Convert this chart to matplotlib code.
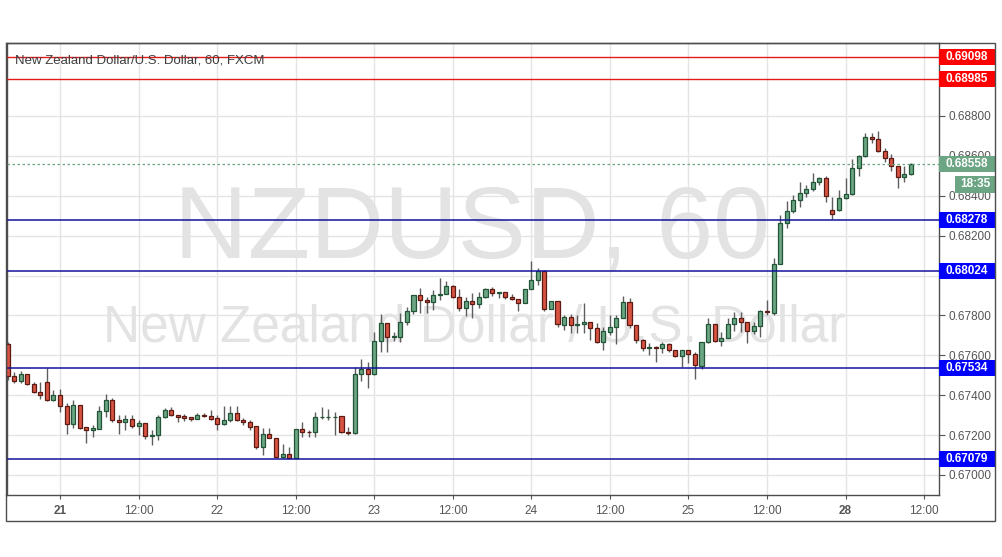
import numpy as np
import matplotlib.pyplot as plt
import matplotlib.transforms as mtransforms
from matplotlib.patches import Rectangle

plt.rcParams['font.family'] = ['Liberation Sans', 'DejaVu Sans']

# hourly candles, 20th 16:00 -> 28th 10:00
opens = [0.67657, 0.67496, 0.67473, 0.67506, 0.67456, 0.67416, 0.67465, 0.67375, 0.67400, 0.67346,
         0.67257, 0.67349, 0.67239, 0.67224, 0.67232, 0.67319, 0.67375, 0.67276, 0.67264, 0.67279,
         0.67247, 0.67259, 0.67197, 0.67199, 0.67289, 0.67324, 0.67299, 0.67294, 0.67289, 0.67282,
         0.67299, 0.67294, 0.67284, 0.67254, 0.67274, 0.67311, 0.67276, 0.67264, 0.67244, 0.67142,
         0.67204, 0.67184, 0.67092, 0.67104, 0.67087, 0.67232, 0.67216, 0.67214, 0.67289, 0.67289,
         0.67291, 0.67296, 0.67216, 0.67212, 0.67505, 0.67531, 0.67505, 0.67672, 0.67761, 0.67690,
         0.67693, 0.67766, 0.67821, 0.67901, 0.67877, 0.67866, 0.67903, 0.67906, 0.67948, 0.67891,
         0.67836, 0.67871, 0.67856, 0.67891, 0.67931, 0.67911, 0.67916, 0.67891, 0.67881, 0.67861,
         0.67931, 0.67976, 0.68023, 0.67832, 0.67871, 0.67754, 0.67794, 0.67751, 0.67756, 0.67766,
         0.67736, 0.67665, 0.67719, 0.67744, 0.67786, 0.67866, 0.67752, 0.67677, 0.67635, 0.67640,
         0.67635, 0.67655, 0.67625, 0.67595, 0.67625, 0.67605, 0.67547, 0.67665, 0.67756, 0.67670,
         0.67685, 0.67756, 0.67786, 0.67766, 0.67724, 0.67746, 0.67823, 0.67811, 0.68058, 0.68262,
         0.68324, 0.68379, 0.68412, 0.68434, 0.68468, 0.68488, 0.68329, 0.68329, 0.68387, 0.68409,
         0.68538, 0.68600, 0.68693, 0.68685, 0.68625, 0.68588, 0.68548, 0.68496, 0.68508]
highs = [0.67668, 0.67518, 0.67523, 0.67506, 0.67468, 0.67468, 0.67538, 0.67426, 0.67431, 0.67363,
         0.67375, 0.67349, 0.67239, 0.67251, 0.67344, 0.67405, 0.67385, 0.67301, 0.67301, 0.67301,
         0.67276, 0.67259, 0.67226, 0.67301, 0.67336, 0.67339, 0.67301, 0.67304, 0.67292, 0.67312,
         0.67309, 0.67326, 0.67301, 0.67344, 0.67344, 0.67344, 0.67284, 0.67276, 0.67244, 0.67234,
         0.67234, 0.67184, 0.67154, 0.67139, 0.67232, 0.67264, 0.67226, 0.67317, 0.67339, 0.67329,
         0.67314, 0.67296, 0.67242, 0.67540, 0.67582, 0.67565, 0.67719, 0.67807, 0.67761, 0.67717,
         0.67814, 0.67844, 0.67901, 0.67936, 0.67891, 0.67928, 0.67986, 0.67973, 0.67953, 0.67931,
         0.67894, 0.67911, 0.67919, 0.67938, 0.67941, 0.67919, 0.67919, 0.67908, 0.67881, 0.67931,
         0.68073, 0.68036, 0.68027, 0.67873, 0.67873, 0.67802, 0.67807, 0.67802, 0.67861, 0.67766,
         0.67761, 0.67744, 0.67802, 0.67802, 0.67898, 0.67886, 0.67752, 0.67682, 0.67663, 0.67647,
         0.67668, 0.67663, 0.67625, 0.67625, 0.67625, 0.67618, 0.67665, 0.67786, 0.67756, 0.67719,
         0.67786, 0.67816, 0.67816, 0.67766, 0.67769, 0.67827, 0.67877, 0.68087, 0.68304, 0.68374,
         0.68404, 0.68471, 0.68454, 0.68513, 0.68496, 0.68499, 0.68392, 0.68429, 0.68488, 0.68583,
         0.68604, 0.68713, 0.68713, 0.68725, 0.68638, 0.68610, 0.68548, 0.68549, 0.68563]
lows = [0.67476, 0.67460, 0.67460, 0.67451, 0.67410, 0.67380, 0.67372, 0.67371, 0.67317, 0.67207,
        0.67237, 0.67233, 0.67159, 0.67192, 0.67230, 0.67292, 0.67267, 0.67207, 0.67226, 0.67234,
        0.67199, 0.67182, 0.67149, 0.67175, 0.67284, 0.67296, 0.67264, 0.67271, 0.67272, 0.67279,
        0.67289, 0.67276, 0.67226, 0.67249, 0.67266, 0.67271, 0.67251, 0.67226, 0.67132, 0.67099,
        0.67184, 0.67092, 0.67084, 0.67085, 0.67084, 0.67189, 0.67192, 0.67192, 0.67279, 0.67276,
        0.67201, 0.67212, 0.67201, 0.67204, 0.67473, 0.67435, 0.67501, 0.67615, 0.67618, 0.67672,
        0.67668, 0.67751, 0.67807, 0.67811, 0.67811, 0.67826, 0.67878, 0.67906, 0.67886, 0.67821,
        0.67799, 0.67786, 0.67836, 0.67889, 0.67899, 0.67886, 0.67882, 0.67877, 0.67824, 0.67861,
        0.67931, 0.67953, 0.67824, 0.67832, 0.67744, 0.67727, 0.67711, 0.67712, 0.67711, 0.67677,
        0.67660, 0.67627, 0.67702, 0.67655, 0.67786, 0.67736, 0.67660, 0.67622, 0.67602, 0.67568,
        0.67612, 0.67618, 0.67593, 0.67540, 0.67560, 0.67480, 0.67530, 0.67660, 0.67668, 0.67648,
        0.67685, 0.67724, 0.67719, 0.67663, 0.67707, 0.67693, 0.67802, 0.67802, 0.68056, 0.68237,
        0.68315, 0.68345, 0.68395, 0.68425, 0.68454, 0.68370, 0.68284, 0.68325, 0.68384, 0.68404,
        0.68499, 0.68593, 0.68663, 0.68618, 0.68571, 0.68526, 0.68441, 0.68471, 0.68504]
closes = [0.67496, 0.67473, 0.67506, 0.67455, 0.67415, 0.67400, 0.67375, 0.67401, 0.67344, 0.67257,
          0.67349, 0.67237, 0.67224, 0.67236, 0.67319, 0.67375, 0.67274, 0.67264, 0.67279, 0.67247,
          0.67259, 0.67197, 0.67201, 0.67289, 0.67324, 0.67299, 0.67292, 0.67287, 0.67282, 0.67299,
          0.67294, 0.67282, 0.67254, 0.67274, 0.67311, 0.67274, 0.67264, 0.67242, 0.67142, 0.67204,
          0.67184, 0.67092, 0.67104, 0.67087, 0.67232, 0.67214, 0.67214, 0.67289, 0.67290, 0.67291,
          0.67292, 0.67216, 0.67212, 0.67505, 0.67531, 0.67505, 0.67672, 0.67761, 0.67690, 0.67697,
          0.67766, 0.67821, 0.67901, 0.67876, 0.67866, 0.67901, 0.67909, 0.67948, 0.67891, 0.67836,
          0.67871, 0.67856, 0.67891, 0.67931, 0.67911, 0.67918, 0.67891, 0.67881, 0.67861, 0.67931,
          0.67976, 0.68023, 0.67832, 0.67871, 0.67757, 0.67794, 0.67751, 0.67757, 0.67766, 0.67736,
          0.67665, 0.67722, 0.67744, 0.67786, 0.67866, 0.67752, 0.67677, 0.67635, 0.67640, 0.67635,
          0.67655, 0.67625, 0.67597, 0.67625, 0.67605, 0.67552, 0.67665, 0.67756, 0.67670, 0.67685,
          0.67756, 0.67786, 0.67766, 0.67724, 0.67746, 0.67821, 0.67819, 0.68058, 0.68262, 0.68324,
          0.68379, 0.68412, 0.68434, 0.68468, 0.68488, 0.68397, 0.68307, 0.68387, 0.68409, 0.68538,
          0.68600, 0.68693, 0.68685, 0.68625, 0.68588, 0.68548, 0.68496, 0.68508, 0.68558]

xtick_pos = [8, 20, 32, 44, 56, 68, 80, 92, 104, 116, 128, 140]
xtick_labels = ['21', '12:00', '22', '12:00', '23', '12:00', '24', '12:00', '25', '12:00', '28', '12:00']
bold_days = ['21', '28']

res_levels = [0.69098, 0.68985]
sup_levels = [0.68278, 0.68024, 0.67534, 0.67079]
last_price = 0.68558
countdown = '18:35'
title = 'New Zealand Dollar/U.S. Dollar, 60, FXCM'

W, H = 1002, 557
fig = plt.figure(figsize=(W / 100, H / 100), dpi=100)
ax = fig.add_axes([6.5 / W, 1 - 495 / H, 932 / W, 452 / H])

o = np.array(opens); h = np.array(highs); l = np.array(lows); c = np.array(closes)
idx = np.arange(len(o))
up = c >= o
fill = np.where(up, '#6ba583', '#d75442')
edge = np.where(up, '#225437', '#5b1a13')

ax.vlines(idx, l, h, color='#5e5e5e', lw=1, zorder=3)
ax.bar(idx, np.maximum(np.abs(c - o), 0.00002), bottom=np.minimum(o, c), width=0.62,
       color=fill, edgecolor=edge, linewidth=0.9, zorder=4)

for lv in res_levels:
    ax.axhline(lv, color='#e31a1a', lw=1, zorder=5)
for lv in sup_levels:
    ax.axhline(lv, color='#12129a', lw=1.1, zorder=5)
ax.axhline(last_price, color='#6ba583', lw=0.9, ls=(0, (2, 2)), zorder=5)

ax.set_xlim(-0.17, 142.2)
ax.set_ylim(0.668997, 0.69166)

ax.yaxis.tick_right()
yt = np.arange(0.670, 0.6881, 0.002)
ax.set_yticks(yt)
# the scale hides a tick label that sits fully under a level box
ylabels = []
for v in yt:
    hidden = any(abs(v - lv) < 0.0003 for lv in sup_levels + res_levels)
    ylabels.append('' if hidden else '%.5f' % v)
ax.set_yticklabels(ylabels)
ax.set_xticks(xtick_pos)
ax.set_xticklabels(xtick_labels)
for t in ax.get_xticklabels():
    if t.get_text() in bold_days:
        t.set_fontweight('bold')
        t.set_color('#3a3a3a')
ax.tick_params(axis='y', length=4, pad=3, labelsize=8.5, colors='#555555')
ax.tick_params(axis='x', length=3, pad=4, labelsize=8.5, colors='#555555')
ax.grid(color='#e4e4e4', lw=1)
ax.set_axisbelow(True)
for s in ax.spines.values():
    s.set_color('#4d4d4d')
    s.set_linewidth(1)

# watermark
ax.text(472 / W, 1 - 258 / H, 'NZDUSD, 60', transform=fig.transFigure, fontsize=73.5,
        color='#e3e3e3', ha='center', va='baseline', zorder=1)
ax.text(474 / W, 1 - 342 / H, 'New Zealand Dollar / U.S. Dollar', transform=fig.transFigure,
        fontsize=37, color='#e3e3e3', ha='center', va='baseline', zorder=1)

# price labels on the scale
trans = mtransforms.blended_transform_factory(ax.transAxes, ax.transData)
px_per_unit = 452 / (0.69166 - 0.668997)
right_end = (995 - 6.5) / 932


def price_box(y, text, color, x0=1.0, hpx=16):
    hh = hpx / px_per_unit
    ax.add_patch(Rectangle((x0, y - hh / 2), right_end - x0, hh, transform=trans,
                           facecolor=color, edgecolor='none', clip_on=False, zorder=10))
    ax.text((x0 + right_end) / 2, y, text, transform=trans, ha='center', va='center',
            color='white', fontsize=8.5, fontweight='bold', zorder=11, clip_on=False)


for lv in res_levels:
    price_box(lv, '%.5f' % lv, '#ff0000')
for lv in sup_levels:
    price_box(lv, '%.5f' % lv, '#0000ff')
price_box(last_price, '%.5f' % last_price, '#6ba583')
price_box(last_price - 20 * 0.0000501, countdown, '#6ba583', x0=(955 - 6.5) / 932, hpx=17)

fig.text(15 / W, 1 - 61 / H, title, fontsize=9.5, color='#3e3e3e', va='center')

fig.add_artist(Rectangle((6 / W, 1 - 521 / H), 989 / W, 478 / H, transform=fig.transFigure,
                         fill=False, edgecolor='#4d4d4d', lw=1))

fig.savefig('out.png', dpi=100)
